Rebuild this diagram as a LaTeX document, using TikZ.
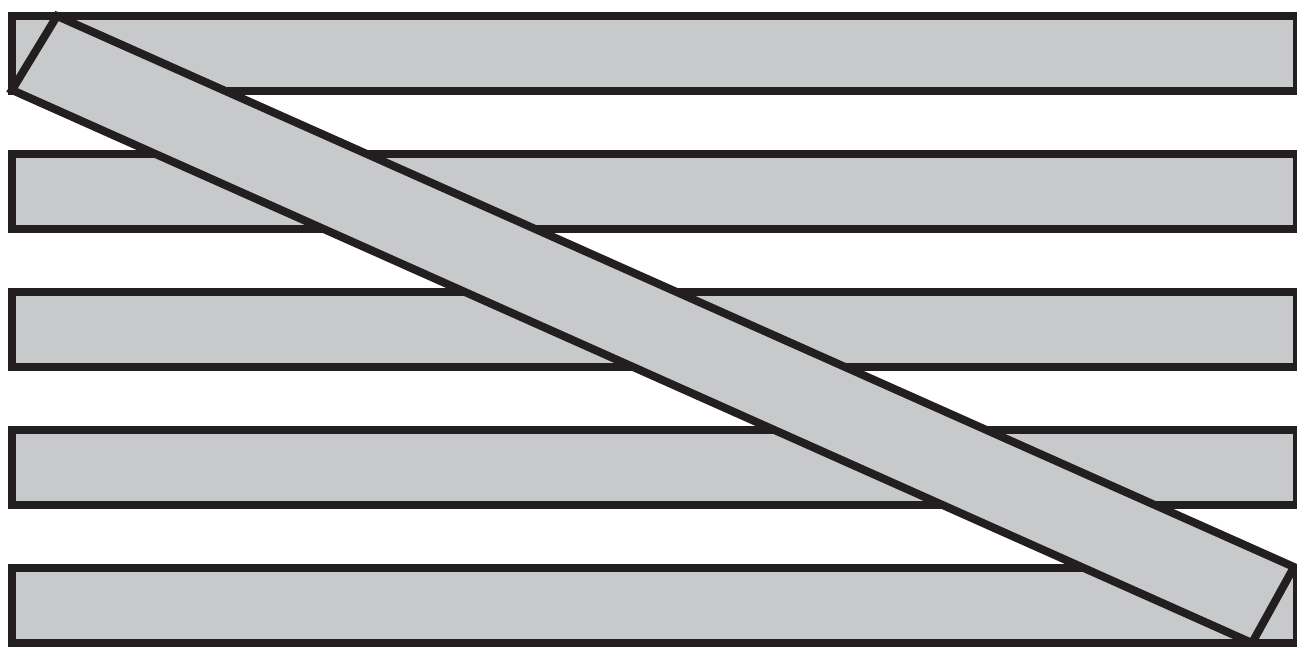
\documentclass[tikz,border=0pt]{standalone}
\definecolor{barfill}{RGB}{200,201,203}
\definecolor{barline}{RGB}{35,31,32}
\begin{document}
\begin{tikzpicture}[x=1pt,y=-1pt,
  bar/.style={draw=barline,fill=barfill,line width=8pt,line join=miter}]
\useasboundingbox (0,0) rectangle (1297,647);
\begin{scope}
\clip (0,0) rectangle (1297,647);
\foreach \t [count=\i] in {16,154,292,430,568}{
  \draw[bar] (12,\t) rectangle (1297,\t+75) node[coordinate] (h\i) {};
}
\coordinate (A) at (57,16);
\coordinate (B) at (12,90);
\coordinate (C) at (1252,643);
\coordinate (D) at (1294,567);
\draw[bar] (A) -- (B) -- (C) -- (D) -- cycle;
\end{scope}
\end{tikzpicture}
\end{document}
